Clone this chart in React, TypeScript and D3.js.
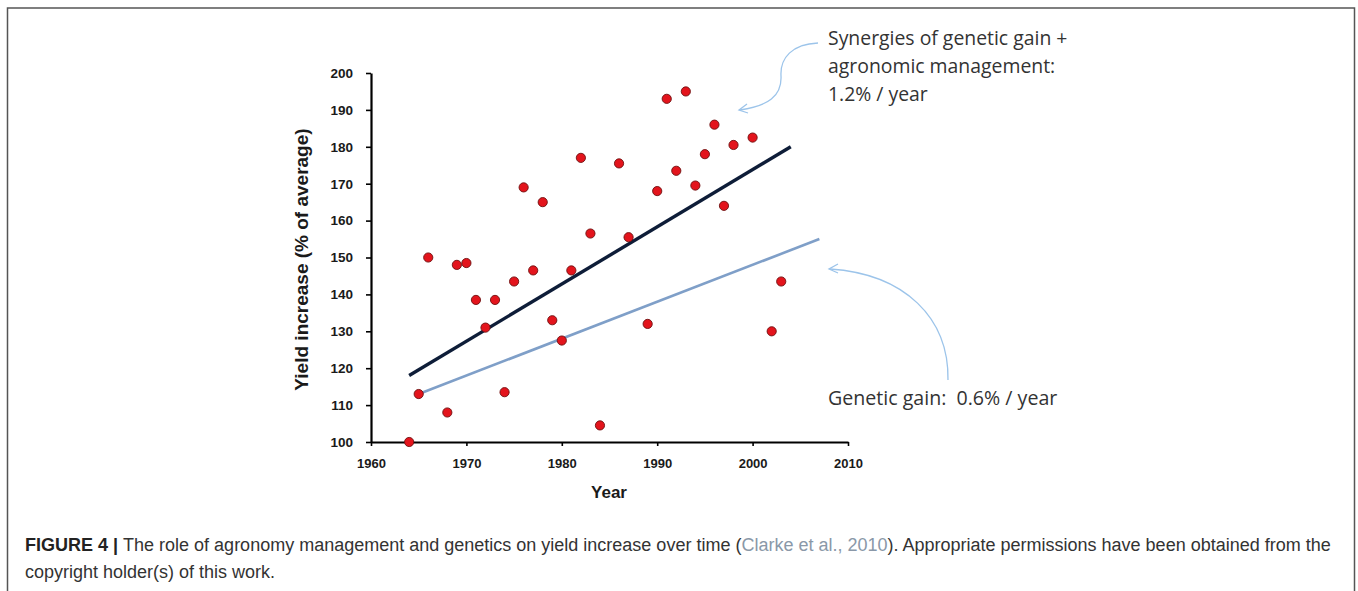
import { useEffect, useRef } from 'react';
import * as d3 from 'd3';

// yearly yield observations (% of average)
const years = [1964, 1965, 1966, 1968, 1969, 1970, 1971, 1972, 1973, 1974, 1975, 1976, 1977, 1978, 1979, 1980, 1981, 1982, 1983, 1984, 1986, 1987, 1989, 1990, 1991, 1992, 1993, 1994, 1995, 1996, 1997, 1998, 2000, 2002, 2003];
const yields = [100, 113, 150, 108, 148, 148.5, 138.5, 131, 138.5, 113.5, 143.5, 169, 146.5, 165, 133, 127.5, 146.5, 177, 156.5, 104.5, 175.5, 155.5, 132, 168, 193, 173.5, 195, 169.5, 178, 186, 164, 180.5, 182.5, 130, 143.5];

// trend lines: [startYear, startValue, endYear, endValue]
const synergyTrend = [1964, 118, 2004, 180];
const geneticTrend = [1965, 113, 2007, 155];

const xTicks = [1960, 1970, 1980, 1990, 2000, 2010];
const yTicks = [100, 110, 120, 130, 140, 150, 160, 170, 180, 190, 200];

const W = 1358;
const H = 591;

const App = () => {
  const svgRef = useRef<SVGSVGElement>(null);

  useEffect(() => {
    if (!svgRef.current) return;
    const svg = d3.select(svgRef.current);
    svg.selectAll('*').remove();

    // frame round the figure
    svg.append('rect')
      .attr('x', 7.5).attr('y', 8)
      .attr('width', 1347).attr('height', 620)
      .attr('fill', 'none')
      .attr('stroke', '#555')
      .attr('stroke-width', 1.5);

    const x = d3.scaleLinear().domain([1960, 2010]).range([371, 848]);
    const y = d3.scaleLinear().domain([100, 200]).range([442, 73]);

    const tickFont = 'Liberation Sans, Arial, sans-serif';

    // y axis
    const gy = svg.append('g')
      .attr('transform', `translate(${x(1960)},0)`)
      .call(d3.axisLeft(y).tickValues(yTicks).tickSizeInner(5).tickSizeOuter(0).tickPadding(13));
    gy.select('.domain').attr('stroke', '#000').attr('stroke-width', 2.2);
    gy.selectAll('.tick line').attr('stroke', '#000').attr('stroke-width', 1.6);
    gy.selectAll('.tick text')
      .attr('fill', '#1a1a1a')
      .style('font-family', tickFont)
      .style('font-size', '13.5px')
      .style('font-weight', 'bold');

    // x axis
    const gx = svg.append('g')
      .attr('transform', `translate(0,${y(100)})`)
      .call(d3.axisBottom(x).tickValues(xTicks).tickFormat(d3.format('d')).tickSizeInner(4).tickSizeOuter(0).tickPadding(13));
    gx.select('.domain').attr('stroke', '#000').attr('stroke-width', 2.2);
    gx.selectAll('.tick line').attr('stroke', '#000').attr('stroke-width', 1.6);
    gx.selectAll('.tick text')
      .attr('fill', '#1a1a1a')
      .style('font-family', tickFont)
      .style('font-size', '13px')
      .style('font-weight', 'bold');

    // axis titles
    svg.append('text')
      .attr('transform', `translate(308,${(y(100) + y(200)) / 2 + 2}) rotate(-90)`)
      .attr('text-anchor', 'middle')
      .attr('fill', '#1a1a1a')
      .style('font-family', tickFont)
      .style('font-size', '19px')
      .style('font-weight', 'bold')
      .text('Yield increase (% of average)');

    svg.append('text')
      .attr('x', 609).attr('y', 498)
      .attr('text-anchor', 'middle')
      .attr('fill', '#1a1a1a')
      .style('font-family', tickFont)
      .style('font-size', '17px')
      .style('font-weight', 'bold')
      .text('Year');

    // trend lines
    svg.append('line')
      .attr('x1', x(geneticTrend[0])).attr('y1', y(geneticTrend[1]))
      .attr('x2', x(geneticTrend[2])).attr('y2', y(geneticTrend[3]))
      .attr('stroke', '#7f9fc8')
      .attr('stroke-width', 2.6);

    svg.append('line')
      .attr('x1', x(synergyTrend[0])).attr('y1', y(synergyTrend[1]))
      .attr('x2', x(synergyTrend[2])).attr('y2', y(synergyTrend[3]))
      .attr('stroke', '#0e1d38')
      .attr('stroke-width', 3.4);

    // observations
    svg.append('g')
      .selectAll('circle')
      .data(years.map((yr, i) => ({ yr, v: yields[i] })))
      .join('circle')
      .attr('cx', d => x(d.yr))
      .attr('cy', d => y(d.v))
      .attr('r', 4.6)
      .attr('fill', '#e3141c')
      .attr('stroke', '#6e1010')
      .attr('stroke-width', 0.9);

    // annotations
    const noteFont = 'Open Sans, sans-serif';
    const note = svg.append('text')
      .attr('fill', '#333')
      .style('font-family', noteFont)
      .style('font-size', '19.4px');
    ['Synergies of genetic gain +', 'agronomic management:', '1.2% / year'].forEach((t, i) => {
      note.append('tspan').attr('x', 828).attr('y', 45 + i * 28).text(t);
    });

    svg.append('text')
      .attr('x', 828).attr('y', 405)
      .attr('fill', '#333')
      .style('font-family', noteFont)
      .style('font-size', '19.6px')
      .style('white-space', 'pre')
      .text('Genetic gain:  0.6% / year');

    // curved arrows
    const arrowColor = '#9cc4ea';
    svg.append('path')
      .attr('d', 'M818,43 C792,44 780,58 781,76 C782,96 768,106 740,110')
      .attr('fill', 'none')
      .attr('stroke', arrowColor)
      .attr('stroke-width', 1.3);
    svg.append('path')
      .attr('d', 'M747,104 L739,110 L748,113')
      .attr('fill', 'none')
      .attr('stroke', arrowColor)
      .attr('stroke-width', 1.3);

    svg.append('path')
      .attr('d', 'M948,380 C949,318 905,274 830,269')
      .attr('fill', 'none')
      .attr('stroke', arrowColor)
      .attr('stroke-width', 1.3);
    svg.append('path')
      .attr('d', 'M838,264 L829,269 L838,273')
      .attr('fill', 'none')
      .attr('stroke', arrowColor)
      .attr('stroke-width', 1.3);

    // caption
    const cap = svg.append('text')
      .attr('fill', '#333')
      .style('font-family', 'Liberation Sans, Arial, sans-serif')
      .style('font-size', '18px');
    const l1 = cap.append('tspan').attr('x', 25).attr('y', 551);
    l1.append('tspan').style('font-weight', 'bold').attr('fill', '#222').text('FIGURE 4 | ');
    l1.append('tspan').text('The role of agronomy management and genetics on yield increase over time (');
    l1.append('tspan').attr('fill', '#8a98a8').text('Clarke et al., 2010');
    l1.append('tspan').text('). Appropriate permissions have been obtained from the');
    cap.append('tspan').attr('x', 25).attr('y', 578).text('copyright holder(s) of this work.');
  }, []);

  return (
    <svg
      ref={svgRef}
      width={W}
      height={H}
      style={{ position: 'absolute', left: 0, top: 0, background: '#fff' }}
    />
  );
};

export default App;
